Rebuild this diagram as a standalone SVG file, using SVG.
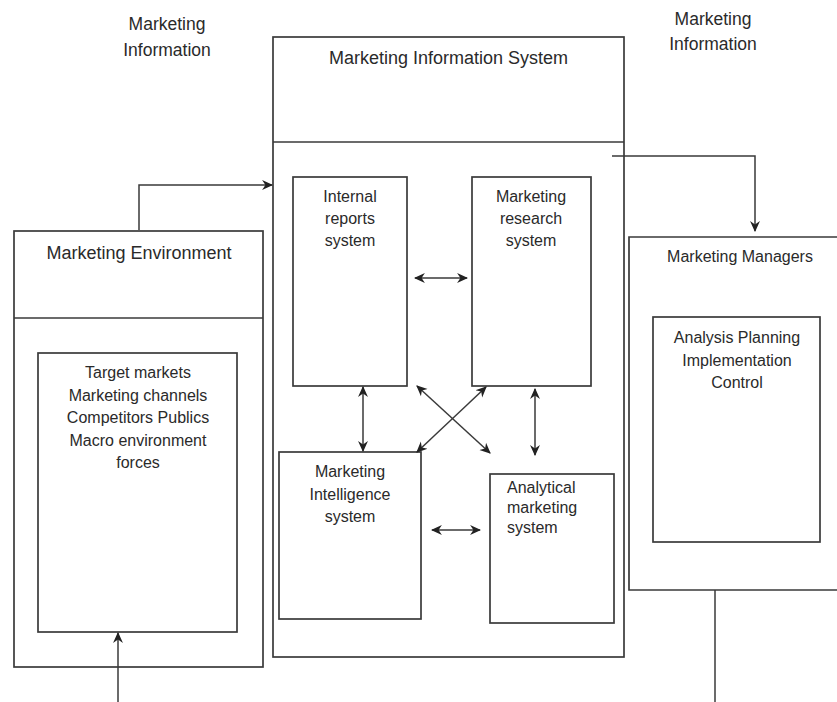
<svg xmlns="http://www.w3.org/2000/svg" width="837" height="702" viewBox="0 0 837 702">
<style>
.box{fill:none;stroke:#3a3a3a;stroke-width:1.7}
.ln{fill:none;stroke:#3a3a3a;stroke-width:1.5}
text{font-family:"Liberation Sans",Arial,sans-serif;fill:#2a2a2a;font-size:16px}
.c{text-anchor:middle}
.t{font-size:18px}
.l{font-size:17.5px}
</style>
<defs>
<marker id="ah" viewBox="0 0 10 10" refX="9" refY="5" markerWidth="11" markerHeight="11" markerUnits="userSpaceOnUse" orient="auto-start-reverse">
<path d="M0,0.5 L10,5 L0,9.5 L3,5 z" fill="#222"/>
</marker>
</defs>
<rect width="837" height="702" fill="#fff"/>

<g id="label-left">
<text class="c l" x="167" y="30">Marketing</text>
<text class="c l" x="167" y="56">Information</text>
</g>
<g id="label-right">
<text class="c l" x="713" y="25">Marketing</text>
<text class="c l" x="713" y="50">Information</text>
</g>

<g id="mis">
<rect class="box" x="273" y="37" width="351" height="620"/>
<line class="box" x1="273" y1="142" x2="624" y2="142"/>
<text class="c t" x="448.5" y="64">Marketing Information System</text>
</g>

<g id="internal-reports">
<rect class="box" x="293" y="177" width="114" height="209"/>
<text class="c" x="350" y="202">Internal</text>
<text class="c" x="350" y="224">reports</text>
<text class="c" x="350" y="246">system</text>
</g>

<g id="marketing-research">
<rect class="box" x="472" y="177" width="119" height="209"/>
<text class="c" x="531" y="202">Marketing</text>
<text class="c" x="531" y="224">research</text>
<text class="c" x="531" y="246">system</text>
</g>

<g id="marketing-intelligence">
<rect class="box" x="279" y="452" width="142" height="167"/>
<text class="c" x="350" y="477">Marketing</text>
<text class="c" x="350" y="500">Intelligence</text>
<text class="c" x="350" y="522">system</text>
</g>

<g id="analytical-marketing">
<rect class="box" x="490" y="474" width="124" height="149"/>
<text x="507" y="493">Analytical</text>
<text x="507" y="513">marketing</text>
<text x="507" y="533">system</text>
</g>

<g id="marketing-environment">
<rect class="box" x="14" y="231" width="249" height="436"/>
<line class="box" x1="14" y1="318" x2="263" y2="318"/>
<text class="c t" x="139" y="259">Marketing Environment</text>
<rect class="box" x="38" y="353" width="199" height="279"/>
<text class="c" x="138" y="378">Target markets</text>
<text class="c" x="138" y="401">Marketing channels</text>
<text class="c" x="138" y="423">Competitors Publics</text>
<text class="c" x="138" y="446">Macro environment</text>
<text class="c" x="138" y="468">forces</text>
</g>

<g id="marketing-managers">
<path class="box" d="M840,237 H629 V590 H840"/>
<text class="c" x="740" y="262">Marketing Managers</text>
<rect class="box" x="653" y="317" width="167" height="225"/>
<text class="c" x="737" y="343">Analysis Planning</text>
<text class="c" x="737" y="366">Implementation</text>
<text class="c" x="737" y="388">Control</text>
</g>

<g id="connectors">
<path class="ln" d="M139,230 V185 H272" marker-end="url(#ah)"/>
<path class="ln" d="M612,156 H755 V231" marker-end="url(#ah)"/>
<path class="ln" d="M118,702 V633" marker-end="url(#ah)"/>
<path class="ln" d="M715,590 V702"/>
<line class="ln" x1="415" y1="278" x2="467" y2="278" marker-start="url(#ah)" marker-end="url(#ah)"/>
<line class="ln" x1="363" y1="387" x2="363" y2="451" marker-start="url(#ah)" marker-end="url(#ah)"/>
<line class="ln" x1="535" y1="389" x2="535" y2="455" marker-start="url(#ah)" marker-end="url(#ah)"/>
<line class="ln" x1="417" y1="386" x2="490" y2="453" marker-start="url(#ah)" marker-end="url(#ah)"/>
<line class="ln" x1="486" y1="387" x2="417" y2="452" marker-start="url(#ah)" marker-end="url(#ah)"/>
<line class="ln" x1="432" y1="530" x2="480" y2="530" marker-start="url(#ah)" marker-end="url(#ah)"/>
</g>
</svg>
